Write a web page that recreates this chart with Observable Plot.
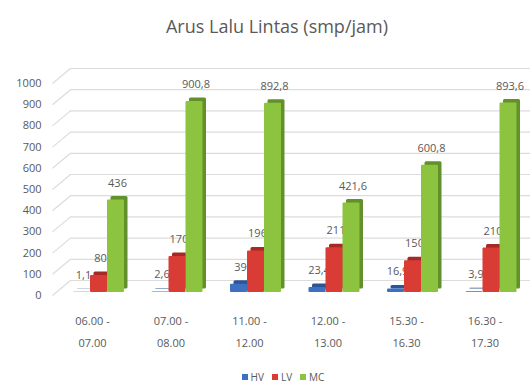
<!DOCTYPE html>
<html>
<head>
<meta charset="utf-8">
<script src="https://cdn.jsdelivr.net/npm/d3@7"></script>
<script src="https://cdn.jsdelivr.net/npm/@observablehq/plot@0.6"></script>
<style>
  html, body { margin: 0; padding: 0; background: #fff; }
  body { width: 530px; height: 389px; overflow: hidden; font-family: "Open Sans", sans-serif; }
  #title { height: 50px; box-sizing: border-box; padding-top: 14px; padding-left: 24px; text-align: center; font-size: 18px; color: #595959; line-height: 24px; }
  #legend { height: 24px; display: flex; justify-content: center; align-items: center; padding-left: 36px; font-size: 10px; color: #595959; gap: 8px; }
  #legend span.sw { display: inline-block; width: 6px; height: 6px; margin-right: 3px; vertical-align: middle; }
  #legend .item { display: flex; align-items: center; }
</style>
</head>
<body>
<div id="title">Arus Lalu Lintas (smp/jam)</div>
<div id="chart"></div>
<div id="legend"></div>
<script>
const categories = ["06.00 -\n07.00", "07.00 -\n08.00", "11.00 -\n12.00", "12.00 -\n13.00", "15.30 -\n16.30", "16.30 -\n17.30"];
const seriesNames = ["HV", "LV", "MC"];
const hv = [1.1, 2.6, 39, 23.4, 16.9, 3.9];
const lv = [80, 170, 196, 211, 150, 210];
const mc = [436, 900.8, 892.8, 421.6, 600.8, 893.6];
const yTicks = [0, 100, 200, 300, 400, 500, 600, 700, 800, 900, 1000];

const frontColors = ["#3d70c0", "#d93b35", "#8cc43f"];
const sideColors = ["#2d5596", "#a52a25", "#62902a"];

const valuesBySeries = [hv, lv, mc];
const rows = [];
valuesBySeries.forEach((vals, s) => vals.forEach((v, i) => rows.push({i, s, series: seriesNames[s], value: v})));

// layout helpers (pixel -> data unit)
const pxX = 78.5;            // px per category
const c0 = 92;               // px of first category center
const u = p => p / pxX;
const xmin = -c0 / pxX, xmax = (530 - c0) / pxX;
const pyY = 212 / 1000;      // px per y unit
const uy = p => p / pyY;

const fmt = v => String(v).replace(".", ",");

const marks = [
  Plot.ruleY(yTicks, {y: d => d, x1: u(70 - c0), x2: xmax, dy: -12, stroke: "#dcdcdc", strokeWidth: 1.2}),
  Plot.link(yTicks, {x1: u(52 - c0), x2: u(70 - c0), y1: d => d - uy(3), y2: d => d + uy(12), stroke: "#dcdcdc", strokeWidth: 1.2}),
  Plot.text(yTicks, {y: d => d, frameAnchor: "left", dx: 41, dy: 3, textAnchor: "end", text: d => String(d), fill: "#595959"}),
  Plot.text(categories, {x: (d, i) => i, frameAnchor: "bottom", dy: 17, lineAnchor: "top", lineHeight: 2, text: d => d, fill: "#595959"})
];

seriesNames.forEach((name, s) => {
  const data = rows.filter(r => r.s === s);
  marks.push(
    Plot.rectY(data, {x1: d => d.i + u(-19 + 17 * s), x2: d => d.i + u(-2 + 17 * s), y1: 0, y2: "value", dx: 3.5, dy: -3.5, fill: sideColors[s], rx: 1.5}),
    Plot.rectY(data, {x1: d => d.i + u(-19 + 17 * s), x2: d => d.i + u(-2 + 17 * s), y1: 0, y2: "value", fill: frontColors[s], rx: 1}),
    Plot.text(data, {x: d => d.i + u(-9 + 17 * s), y: "value", dy: -17, text: d => fmt(d.value), fill: "#595959"})
  );
});

const chart = Plot.plot({
  width: 530,
  height: 315,
  marginTop: 30,
  marginBottom: 73,
  marginLeft: 0,
  marginRight: 0,
  x: {type: "linear", domain: [xmin, xmax], axis: null},
  y: {domain: [0, 1000], axis: null},
  style: {fontFamily: "'Open Sans', sans-serif", fontSize: "11px", color: "#595959", background: "#fff"},
  marks
});
document.getElementById("chart").appendChild(chart);

const legend = document.getElementById("legend");
seriesNames.forEach((name, s) => {
  const item = document.createElement("div");
  item.className = "item";
  const sw = document.createElement("span");
  sw.className = "sw";
  sw.style.background = frontColors[s];
  item.appendChild(sw);
  item.appendChild(document.createTextNode(name));
  legend.appendChild(item);
});
</script>
</body>
</html>
